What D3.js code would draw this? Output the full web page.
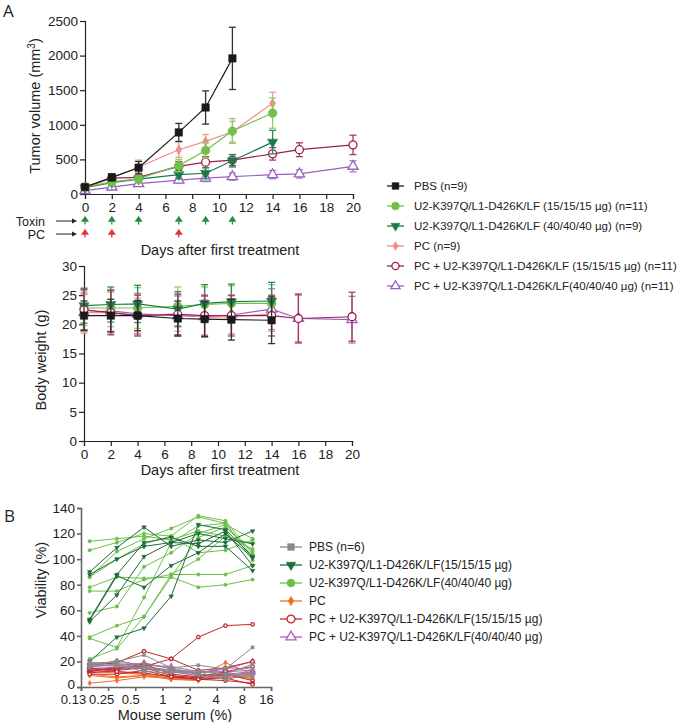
<!DOCTYPE html>
<html>
<head>
<meta charset="utf-8">
<script src="https://cdn.jsdelivr.net/npm/d3@7"></script>
<style>
body { margin: 0; background: #fff; }
svg { font-family: "Liberation Sans", Arial, sans-serif; }
</style>
</head>
<body>
<svg width="680" height="722"></svg>
<script>
// ---- panel A data ----
const daysPBS = [0, 2, 4, 7, 9, 11];
const daysMid = [0, 2, 4, 7, 9, 11, 14];
const daysLong = [0, 2, 4, 7, 9, 11, 14, 16, 20];
const toxinDays = [0, 2, 4, 7, 9, 11];
const pcDays = [0, 2, 7];

const groupNames = ['PBS (n=9)',
    'U2-K397Q/L1-D426K/LF (15/15/15 µg) (n=11)',
    'U2-K397Q/L1-D426K/LF (40/40/40 µg) (n=9)',
    'PC (n=9)',
    'PC + U2-K397Q/L1-D426K/LF (15/15/15 µg) (n=11)',
    'PC + U2-K397Q/L1-D426K/LF(40/40/40 µg)  (n=11)'];

const tumorPBS = [100, 240, 380, 890, 1250, 1960];
const tumorPBSErr = [25, 50, 90, 130, 240, 450];
const tumorU2low = [100, 175, 220, 410, 630, 910, 1170];
const tumorU2lowErr = [20, 40, 60, 90, 110, 180, 220];
const tumorU2high = [90, 165, 215, 280, 300, 480, 750];
const tumorU2highErr = [20, 35, 50, 60, 80, 90, 170];
const tumorPC = [100, 235, 390, 640, 760, 900, 1310];
const tumorPCErr = [25, 50, 100, 110, 100, 150, 160];
const tumorPCU2low = [100, 230, 240, 400, 460, 490, 580, 640, 710];
const tumorPCU2lowErr = [20, 40, 60, 70, 80, 80, 90, 100, 140];
const tumorPCU2high = [50, 100, 150, 200, 230, 250, 280, 290, 400];
const tumorPCU2highErr = [10, 25, 30, 40, 50, 50, 60, 60, 80];

const daysPBSweight = [0, 2, 4, 7, 9, 11, 14];
const weightPBS = [21.5, 21.5, 21.5, 21.0, 20.9, 20.8, 20.7];
const weightPBSErr = [2.5, 2.8, 2.6, 3.0, 3.0, 3.5, 4.0];
const weightU2low = [22.8, 22.8, 22.8, 23.1, 23.4, 23.6, 23.6];
const weightU2lowErr = [3.0, 3.2, 3.5, 3.3, 3.0, 3.0, 3.2];
const weightU2high = [23.2, 23.4, 23.5, 22.6, 23.6, 23.9, 24.0];
const weightU2highErr = [3.0, 3.0, 3.2, 3.0, 3.2, 3.0, 3.2];
const weightPC = [22.0, 22.0, 21.5, 21.8, 21.2, 21.3, 21.8];
const weightPCErr = [3.5, 3.5, 3.0, 3.0, 3.0, 3.0, 3.0];
const weightPCU2low = [22.5, 22.0, 21.5, 21.7, 21.5, 21.5, 21.5, 21.0, 21.3];
const weightPCU2lowErr = [3.5, 3.8, 3.5, 3.5, 3.5, 3.5, 3.5, 4.2, 4.2];
const weightPCU2high = [22.0, 22.3, 21.8, 21.5, 21.3, 21.6, 22.6, 21.0, 20.8];
const weightPCU2highErr = [3.2, 3.5, 3.5, 3.5, 3.5, 3.3, 3.5, 4.0, 4.0];

// ---- panel B data ----
const serum = [0.156, 0.3125, 0.625, 1.25, 2.5, 5, 10];
const serumTicks = [0.125, 0.25, 0.5, 1, 2, 4, 8, 16];
const serumTickLabels = ['0.13', '0.25', '0.5', '1', '2', '4', '8', '16'];
const groupNamesB = ['PBS (n=6)',
    'U2-K397Q/L1-D426K/LF(15/15/15 µg)',
    'U2-K397Q/L1-D426K/LF(40/40/40 µg)',
    'PC',
    'PC + U2-K397Q/L1-D426K/LF(15/15/15 µg)',
    'PC + U2-K397Q/L1-D426K/LF(40/40/40 µg)'];

const viabPBS = [
    [18, 20, 25, 15, 17, 14, 31],
    [17, 17, 15, 12, 13, 10, 18],
    [19, 19, 18, 15, 10, 8, 12],
    [15, 21, 16, 13, 11, 15, 14],
    [18, 16, 14, 12, 9, 6, 10],
    [16, 18, 12, 11, 12, 10, 8]
];
const viabU2low = [
    [90, 109, 125, 110, 115, 113, 122],
    [88, 100, 110, 113, 120, 116, 112],
    [53, 88, 113, 117, 110, 110, 91],
    [52, 87, 78, 95, 105, 120, 101],
    [51, 72, 102, 113, 112, 122, 95],
    [20, 39, 46, 71, 127, 123, 102]
];
const viabU2high = [
    [114, 116, 118, 115, 122, 118, 112],
    [107, 113, 120, 118, 134, 130, 104],
    [86, 106, 116, 124, 133, 128, 99],
    [78, 86, 85, 86, 78, 80, 84],
    [75, 75, 84, 88, 88, 88, 95],
    [58, 63, 94, 105, 120, 127, 116],
    [39, 48, 55, 86, 117, 125, 106],
    [38, 31, 70, 113, 126, 128, 102],
    [22, 30, 55, 88, 100, 118, 108],
    [86, 100, 112, 118, 105, 107, 115]
];
const viabPC = [
    [3, 5, 8, 7, 6, 8, 7],
    [9, 7, 9, 7, 6, 9, 10],
    [12, 11, 10, 8, 8, 19, 10],
    [13, 12, 10, 6, 6, 7, 9],
    [10, 8, 9, 6, 5, 11, 6]
];
const viabPCU2low = [
    [12, 15, 16, 22, 39, 48, 49],
    [17, 19, 28, 22, 13, 15, 20],
    [14, 14, 18, 10, 8, 12, 16],
    [11, 13, 15, 9, 7, 10, 5],
    [10, 10, 13, 8, 6, 5, 3],
    [15, 12, 11, 8, 6, 7, 2]
];
const viabPCU2high = [
    [16, 15, 19, 14, 11, 14, 20],
    [14, 14, 15, 12, 9, 10, 12],
    [19, 18, 17, 16, 12, 12, 13],
    [13, 15, 16, 13, 10, 9, 11]
];

// ---- styles ----
var colA = ['#1a1a1a', '#72c04a', '#1b7a48', '#f08c8c', '#9c1f4f', '#9b5fc0'];
var errA = ['#333333', '#8fcf6a', '#2f8a58', '#e0a58f', '#a43a63', '#a57ac4'];
var symA = [
    {type: d3.symbolSquare, size: 56, rot: 0, open: false},
    {type: d3.symbolCircle, size: 60, rot: 0, open: false},
    {type: d3.symbolTriangle, size: 45, rot: 180, open: false},
    {type: d3.symbolDiamond, size: 30, rot: 0, open: false},
    {type: d3.symbolCircle, size: 50, rot: 0, open: true},
    {type: d3.symbolTriangle, size: 45, rot: 0, open: true}
];
var colB = ['#8a8a8a', '#1f6a3c', '#6cc04a', '#f26b2a', '#c0282f', '#b05cc6'];
var symB = [
    {type: d3.symbolSquare, size: 50, rot: 0, open: false},
    {type: d3.symbolTriangle, size: 45, rot: 180, open: false},
    {type: d3.symbolCircle, size: 55, rot: 0, open: false},
    {type: d3.symbolDiamond, size: 30, rot: 0, open: false},
    {type: d3.symbolCircle, size: 55, rot: 0, open: true},
    {type: d3.symbolTriangle, size: 50, rot: 0, open: true}
];
// label nudges for the serum axis, as in the original figure
var serumLabelDx = [-8, -7, -5, 0, -2, -1, -2, -5];

var svg = d3.select('svg');

function zip(xs, ys, es) {
    return xs.map((x, i) => ({x: x, y: ys[i], e: es ? es[i] : 0}));
}

function drawMarker(g, sym, color, x, y, scale) {
    g.append('path')
        .attr('d', d3.symbol().type(sym.type).size(sym.size * (scale || 1))())
        .attr('transform', `translate(${x},${y}) rotate(${sym.rot})`)
        .attr('fill', sym.open ? '#fff' : color)
        .attr('stroke', color)
        .attr('stroke-width', sym.open ? 1.3 : 0.5);
}

function drawSeries(g, xs, ys, pts, i) {
    var line = d3.line().x(d => xs(d.x)).y(d => ys(d.y));
    var eb = g.append('g').attr('stroke', errA[i]).attr('stroke-width', 1.3);
    pts.forEach(d => {
        var x = xs(d.x);
        eb.append('line').attr('x1', x).attr('x2', x).attr('y1', ys(d.y - d.e)).attr('y2', ys(d.y + d.e));
        eb.append('line').attr('x1', x - 3.5).attr('x2', x + 3.5).attr('y1', ys(d.y + d.e)).attr('y2', ys(d.y + d.e));
        eb.append('line').attr('x1', x - 3.5).attr('x2', x + 3.5).attr('y1', ys(d.y - d.e)).attr('y2', ys(d.y - d.e));
    });
    g.append('path').datum(pts)
        .attr('d', line)
        .attr('fill', 'none')
        .attr('stroke', colA[i])
        .attr('stroke-width', 1.2);
    pts.forEach(d => drawMarker(g, symA[i], colA[i], xs(d.x), ys(d.y)));
}

function styleAxis(g, color, width, size) {
    g.selectAll('path,line').attr('stroke', color).attr('stroke-width', width);
    g.selectAll('text').attr('fill', '#222').style('font-size', size || '13.5px')
        .style('font-family', '"Liberation Sans", Arial, sans-serif');
}

// ================= panel A: tumor volume =================
var xTumor = d3.scaleLinear().domain([0, 20]).range([85, 353]);
var yTumor = d3.scaleLinear().domain([0, 2500]).range([194, 21]);

svg.append('g').attr('transform', 'translate(0,194)')
    .call(d3.axisBottom(xTumor).tickValues(d3.range(0, 21, 2)).tickSizeOuter(0).tickSize(5).tickPadding(3))
    .call(g => styleAxis(g, '#222', 1.2));
svg.append('g').attr('transform', 'translate(85,0)')
    .call(d3.axisLeft(yTumor).tickValues(d3.range(0, 2501, 500)).tickFormat(d3.format('d'))
        .tickSizeOuter(0).tickSize(5).tickPadding(2))
    .call(g => styleAxis(g, '#222', 1.2));

var tumorSets = [
    zip(daysPBS, tumorPBS, tumorPBSErr),
    zip(daysMid, tumorU2low, tumorU2lowErr),
    zip(daysMid, tumorU2high, tumorU2highErr),
    zip(daysMid, tumorPC, tumorPCErr),
    zip(daysLong, tumorPCU2low, tumorPCU2lowErr),
    zip(daysLong, tumorPCU2high, tumorPCU2highErr)
];
var tumorG = svg.append('g');
[5, 4, 2, 3, 1, 0].forEach(i => drawSeries(tumorG, xTumor, yTumor, tumorSets[i], i));

svg.append('text').attr('transform', 'translate(40,106) rotate(-90)')
    .attr('text-anchor', 'middle').style('font-size', '14.5px').attr('fill', '#222')
    .html('Tumor volume (mm<tspan dy="-5" style="font-size:10px">3</tspan><tspan dy="5">)</tspan>');

// treatment arrows
function upArrow(g, x, y, color) {
    g.append('path')
        .attr('d', `M${x},${y - 4} L${x - 2.8},${y} L${x + 2.8},${y} Z M${x},${y} L${x},${y + 3.5}`)
        .attr('fill', color).attr('stroke', color).attr('stroke-width', 1.3);
}
var arrowG = svg.append('g');
toxinDays.forEach(d => upArrow(arrowG, xTumor(d), 221, '#2a8a4a'));
pcDays.forEach(d => upArrow(arrowG, xTumor(d), 234, '#e03838'));
[['Toxin', 221], ['PC', 234]].forEach(r => {
    arrowG.append('text').attr('x', 45).attr('y', r[1] + 4.5).attr('text-anchor', 'end')
        .style('font-size', '12.5px').attr('fill', '#222').text(r[0]);
    arrowG.append('line').attr('x1', 56).attr('x2', 73).attr('y1', r[1]).attr('y2', r[1])
        .attr('stroke', '#222').attr('stroke-width', 1);
    arrowG.append('path').attr('d', `M77,${r[1]} L72,${r[1] - 2.5} L72,${r[1] + 2.5} Z`).attr('fill', '#222');
});
svg.append('text').attr('x', 220).attr('y', 255).attr('text-anchor', 'middle')
    .style('font-size', '14.5px').attr('fill', '#222').text('Days after first treatment');

// legend A
var legA = svg.append('g');
groupNames.forEach((name, i) => {
    var y = 186 + i * 20;
    legA.append('line').attr('x1', 387).attr('x2', 404).attr('y1', y).attr('y2', y)
        .attr('stroke', colA[i]).attr('stroke-width', 1.3);
    drawMarker(legA, symA[i], colA[i], 395.5, y, 0.8);
    legA.append('text').attr('x', 414).attr('y', y + 4.2)
        .style('font-size', '11.5px').attr('fill', '#222').text(name);
});

// ================= panel A: body weight =================
var xWeight = d3.scaleLinear().domain([0, 20]).range([84, 352]);
var yWeight = d3.scaleLinear().domain([0, 30]).range([441, 266]);

svg.append('g').attr('transform', 'translate(0,441)')
    .call(d3.axisBottom(xWeight).tickValues(d3.range(0, 21, 2)).tickSizeOuter(0).tickSize(5).tickPadding(3))
    .call(g => styleAxis(g, '#222', 1.2));
svg.append('g').attr('transform', 'translate(84,0)')
    .call(d3.axisLeft(yWeight).tickValues(d3.range(0, 31, 5)).tickSizeOuter(0).tickSize(5).tickPadding(2))
    .call(g => styleAxis(g, '#222', 1.2));

var weightSets = [
    zip(daysPBSweight, weightPBS, weightPBSErr),
    zip(daysMid, weightU2low, weightU2lowErr),
    zip(daysMid, weightU2high, weightU2highErr),
    zip(daysMid, weightPC, weightPCErr),
    zip(daysLong, weightPCU2low, weightPCU2lowErr),
    zip(daysLong, weightPCU2high, weightPCU2highErr)
];
var weightG = svg.append('g');
[5, 3, 1, 2, 4, 0].forEach(i => drawSeries(weightG, xWeight, yWeight, weightSets[i], i));

svg.append('text').attr('transform', 'translate(46,360) rotate(-90)')
    .attr('text-anchor', 'middle').style('font-size', '14.5px').attr('fill', '#222').text('Body weight (g)');
svg.append('text').attr('x', 220).attr('y', 475).attr('text-anchor', 'middle')
    .style('font-size', '14.5px').attr('fill', '#222').text('Days after first treatment');

svg.append('text').attr('x', 3).attr('y', 17).style('font-size', '17px')
    .style('font-family', '"Open Sans", sans-serif').attr('fill', '#222').text('A');

// ================= panel B: viability =================
var xSerum = d3.scaleLog().base(2).domain([0.125, 16]).range([81, 271]);
var yViab = d3.scaleLinear().domain([0, 140]).range([687, 508]);

svg.append('g').attr('transform', 'translate(0,687)')
    .call(d3.axisBottom(xSerum).tickValues(serumTicks).tickFormat((d, i) => serumTickLabels[i])
        .tickSizeOuter(0).tickSize(4).tickPadding(3.5))
    .call(g => styleAxis(g, '#666', 1.6, '13px'))
    .call(g => g.selectAll('.tick text').attr('dx', (d, i) => serumLabelDx[i]));
svg.append('g').attr('transform', 'translate(81,0)')
    .call(d3.axisLeft(yViab).tickValues(d3.range(0, 141, 20)).tickSizeOuter(0).tickSize(4).tickPadding(2))
    .call(g => styleAxis(g, '#666', 1.6))
    .call(g => g.selectAll('.tick text').filter(d => d === 0).attr('y', -2.5));

var viabGroups = [viabPBS, viabU2low, viabU2high, viabPC, viabPCU2low, viabPCU2high];
var viabLine = d3.line().x((d, i) => xSerum(serum[i])).y(d => yViab(d));
var viabG = svg.append('g');
[2, 1, 3, 5, 4, 0].forEach(gi => {
    viabGroups[gi].forEach(row => {
        viabG.append('path').datum(row)
            .attr('d', viabLine)
            .attr('fill', 'none')
            .attr('stroke', colB[gi])
            .attr('stroke-width', 1);
        row.forEach((v, i) => {
            var s = {type: symB[gi].type, size: 9, rot: symB[gi].rot, open: symB[gi].open};
            drawMarker(viabG, s, colB[gi], xSerum(serum[i]), yViab(v));
        });
    });
});

svg.append('text').attr('transform', 'translate(46,580) rotate(-90)')
    .attr('text-anchor', 'middle').style('font-size', '14.5px').attr('fill', '#222').text('Viability (%)');
svg.append('text').attr('x', 175).attr('y', 720).attr('text-anchor', 'middle')
    .style('font-size', '14.5px').attr('fill', '#222').text('Mouse serum (%)');
svg.append('text').attr('x', 4).attr('y', 522).style('font-size', '17px')
    .style('font-family', '"Open Sans", sans-serif').attr('fill', '#222').text('B');

// legend B
var legB = svg.append('g');
groupNamesB.forEach((name, i) => {
    var y = 547 + i * 18;
    legB.append('line').attr('x1', 280).attr('x2', 302).attr('y1', y).attr('y2', y)
        .attr('stroke', colB[i]).attr('stroke-width', 1.3);
    drawMarker(legB, symB[i], colB[i], 291, y, 0.9);
    legB.append('text').attr('x', 309).attr('y', y + 4.3)
        .style('font-size', '12px').attr('fill', '#222').text(name);
});
</script>
</body>
</html>
